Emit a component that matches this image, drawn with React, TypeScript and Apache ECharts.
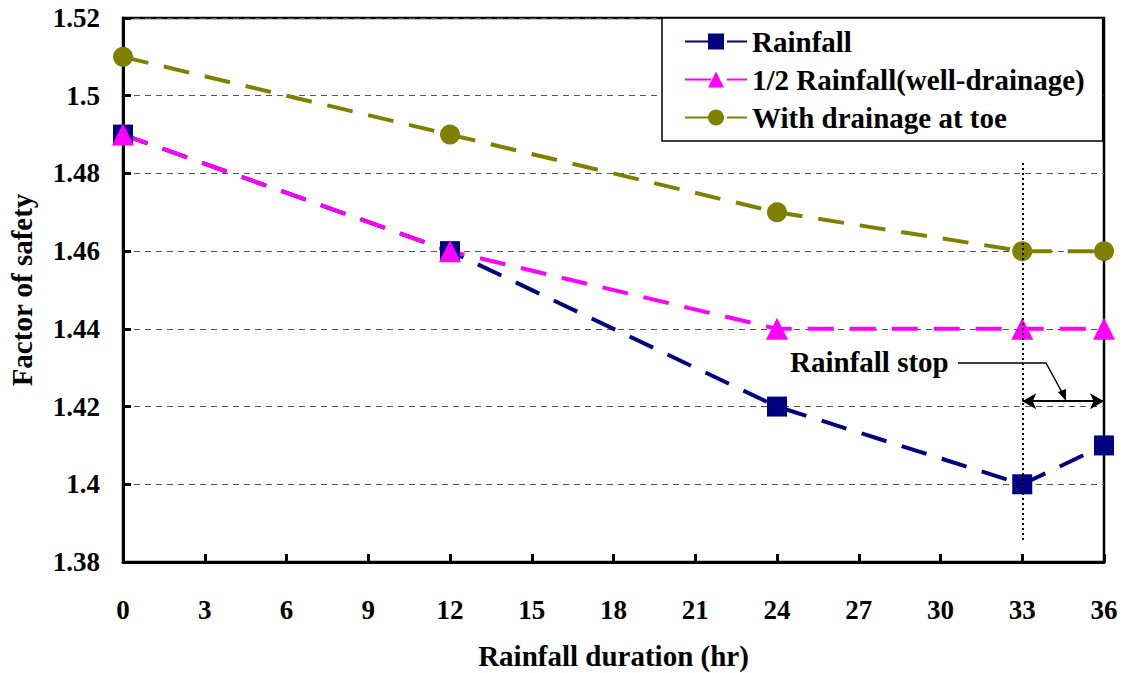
import React, { useEffect, useRef } from "react";
import * as echarts from "echarts";

const hours = [0, 12, 24, 33, 36];
const rainfall = [1.49, 1.46, 1.42, 1.4, 1.41];
const halfRainfall = [1.49, 1.46, 1.44, 1.44, 1.44];
const toeDrainage = [1.51, 1.49, 1.47, 1.46, 1.46];
const seriesNames = ["Rainfall", "1/2 Rainfall(well-drainage)", "With drainage at toe"];
const stopHour = 33;
const endHour = 36;

const FONT = "Liberation Serif";

const pairs = (ys: number[]) => hours.map((h, i) => [h, ys[i]]);

export default function App() {
  const ref = useRef<HTMLDivElement>(null);

  useEffect(() => {
    if (!ref.current) return;
    const chart = echarts.init(ref.current, undefined, { renderer: "svg" });
    const dash = [26, 16];
    const lineSeries = (name: string, data: number[], color: string, symbol: string, size: number) => ({
      name,
      type: "line",
      data: pairs(data),
      symbol,
      symbolSize: size,
      itemStyle: { color },
      lineStyle: { color, width: 4, type: dash },
      z: 3,
    });
    const boldText = (size: number) => ({
      fontFamily: FONT,
      fontWeight: "bold",
      fontSize: size,
      color: "#000",
    });

    chart.setOption({
      animation: false,
      backgroundColor: "#fff",
      grid: {
        left: 123,
        top: 18,
        right: 25,
        bottom: 111,
        outerBoundsMode: "none",
        show: true,
        borderColor: "#000",
        borderWidth: 2.5,
      },
      legend: {
        data: seriesNames,
        orient: "vertical",
        left: 662,
        top: 18,
        itemWidth: 62,
        itemHeight: 20,
        itemGap: 9,
        padding: [9, 18, 9, 22],
        backgroundColor: "#fff",
        borderColor: "#000",
        borderWidth: 1.5,
        textStyle: boldText(29),
      },
      xAxis: {
        type: "value",
        min: 0,
        max: 36,
        interval: 3,
        name: "Rainfall duration (hr)",
        nameLocation: "middle",
        nameGap: 79,
        nameTextStyle: boldText(29),
        axisLine: { lineStyle: { color: "#000", width: 3 } },
        axisTick: { inside: true, length: 8, lineStyle: { color: "#000", width: 3 } },
        axisLabel: { margin: 34, ...boldText(27) },
        splitLine: { show: false },
      },
      yAxis: {
        type: "value",
        min: 1.38,
        max: 1.52,
        interval: 0.02,
        name: "Factor of safety",
        nameLocation: "middle",
        nameGap: 87,
        nameTextStyle: boldText(29),
        axisLine: { lineStyle: { color: "#000", width: 3 } },
        axisTick: { inside: true, length: 8, lineStyle: { color: "#000", width: 3 } },
        axisLabel: {
          margin: 23,
          ...boldText(27),
          formatter: (v: number) => String(parseFloat(v.toFixed(2))),
        },
        splitLine: { show: true, lineStyle: { color: "#555", width: 1, type: [6, 5] } },
      },
      series: [
        {
          ...lineSeries(seriesNames[0], rainfall, "#000080", "rect", 20),
          markLine: {
            silent: true,
            symbol: ["none", "none"],
            label: { show: false },
            lineStyle: { color: "#000", width: 2, type: [2, 3] },
            data: [[{ coord: [stopHour, 1.4827] }, { coord: [stopHour, 1.3857] }]],
          },
        },
        {
          ...lineSeries(seriesNames[1], halfRainfall, "#FF00FF", "triangle", 22),
          markLine: {
            silent: true,
            symbol: ["arrow", "arrow"],
            symbolSize: [12, 14],
            label: { show: false },
            lineStyle: { color: "#000", width: 2, type: "solid" },
            data: [[{ coord: [stopHour, 1.4214] }, { coord: [endHour, 1.4214] }]],
          },
        },
        lineSeries(seriesNames[2], toeDrainage, "#808000", "circle", 20),
      ],
      graphic: [
        {
          type: "text",
          left: 790,
          top: 347,
          style: { text: "Rainfall stop", fontFamily: FONT, fontWeight: "bold", fontSize: 29, fill: "#000" },
        },
        {
          type: "polyline",
          shape: { points: [[958, 363], [1046, 363], [1064, 396]] },
          style: { stroke: "#000", lineWidth: 1.5, fill: "none" },
        },
        {
          type: "polygon",
          shape: { points: [[1066, 401], [1058, 392], [1066, 389]] },
          style: { fill: "#000" },
        },
      ],
    });
    return () => chart.dispose();
  }, []);

  return (
    <div
      ref={ref}
      style={{ position: "absolute", left: 0, top: 0, width: 1129, height: 673 }}
    />
  );
}
